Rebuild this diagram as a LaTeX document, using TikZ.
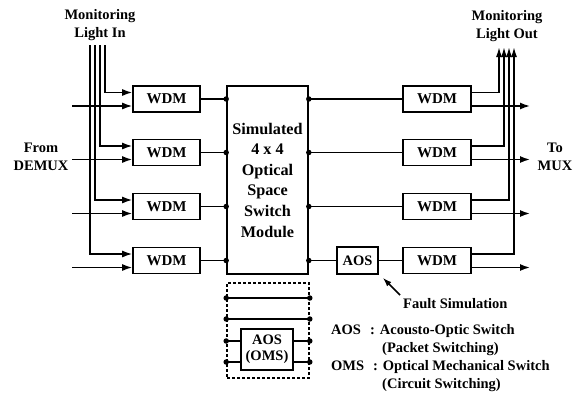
\documentclass[tikz,border=0pt]{standalone}
\usepackage{fontspec}
\setmainfont{Liberation Serif}
\usetikzlibrary{arrows.meta}
\begin{document}
\begin{tikzpicture}[x=1pt,y=-1pt,
  every node/.style={font=\bfseries\fontsize{14.5}{16}\selectfont},
  box/.style={draw,line width=1.6pt,inner sep=0pt,align=center},
  wdm/.style={box,minimum width=67pt,minimum height=26pt,font=\bfseries\fontsize{15}{16}\selectfont},
  ln/.style={line width=1.5pt},
  arr/.style={ln,-{Latex[length=10pt,width=7pt]}},
  dot/.style={circle,fill,inner sep=0pt,minimum size=5.5pt},
  lbl/.style={inner sep=0pt,align=center},
  multi/.style={lbl,font=\bfseries\fontsize{14.5}{18}\selectfont}]
\useasboundingbox (0,0) rectangle (583,394);

% switch module
\node[box,minimum width=81pt,minimum height=188pt,
      font=\bfseries\fontsize{16.2}{20.6}\selectfont] (SW) at (267.5,180)
  {Simulated\\4 x 4\\Optical\\Space\\Switch\\Module};

% WDM boxes
\foreach \i/\y in {1/99,2/152.5,3/206.5,4/260.5} {
  \node[wdm] (L\i) at (166.5,\y) {WDM};
}
\foreach \i/\y in {1/99,2/152.5,3/206.5,4/260.5} {
  \node[wdm,minimum width=68pt] (R\i) at (437,\y) {WDM};
}
\node[box,minimum width=41pt,minimum height=27pt] (AOS) at (357.5,260.5) {AOS};

% left side connections
\foreach \i/\y/\mx in {1/99/105,2/152.5/100,3/206.5/95,4/260.5/90} {
  \coordinate (mi\i) at (\mx,45);
  \coordinate (in\i) at (72,{\y+7});
  \draw[arr] (mi\i) |- ([yshift=6.5pt]L\i.west);
  \draw[arr] (in\i) -- ([yshift=-7pt]L\i.west);
  \draw[ln] (L\i.east) -- (L\i.east -| SW.west) node[dot] {};
}

% right side connections
\foreach \i in {1,2,3} {
  \draw[ln] (SW.east |- R\i.west) node[dot] {} -- (R\i.west);
}
\draw[ln] (SW.east |- AOS.west) node[dot] {} -- (AOS.west);
\draw[ln] (AOS.east) -- (R4.west);

\foreach \i/\y/\mx in {1/99/499,2/152.5/504,3/206.5/509,4/260.5/514} {
  \coordinate (mo\i) at (\mx,47);
  \coordinate (out\i) at (530,{\y+7});
  \draw[arr,-{Latex[length=10pt,width=6pt]}] ([yshift=6.5pt]R\i.east) -| (mo\i);
  \draw[arr] ([yshift=-7pt]R\i.east) -- (out\i);
}

% protection / dashed box
\node[draw,dash pattern=on 3pt off 2pt,line width=1.6pt,inner sep=0pt,
      minimum width=82pt,minimum height=95pt] (DB) at (268,330.5) {};
\node[box,minimum width=52pt,minimum height=41pt] (OMS) at (267,349.5) {AOS\\(OMS)};
\draw[ln] (DB.west |- 0,298) node[dot] {} -- (DB.east |- 0,298) node[dot] {};
\draw[ln] (DB.west |- 0,319) node[dot] {} -- (DB.east |- 0,319) node[dot] {};
\draw[ln] (DB.west |- 0,341) node[dot] {} -- (OMS.west |- 0,341);
\draw[ln] (OMS.east |- 0,341) -- (DB.east |- 0,341) node[dot] {};
\draw[ln] (DB.west |- 0,362) node[dot] {} -- (OMS.west |- 0,362);
\draw[ln] (OMS.east |- 0,362) -- (DB.east |- 0,362) node[dot] {};

% labels
\node[multi,anchor=north] (tin) at (100,9) {Monitoring\\Light In};
\node[multi,anchor=north] (tout) at (507,10) {Monitoring\\Light Out};
\node[multi,anchor=north] (tfrom) at (41,143) {From\\DEMUX};
\node[multi,anchor=north] (tto) at (555,143) {To\\MUX};

\node[lbl,anchor=base west] (FS) at (403,308) {Fault Simulation};
\coordinate (ft) at (400,295);
\draw[ln,-{Latex[length=9pt,width=6pt]}] (ft) -- ([shift={(4pt,-3pt)}]AOS.south east);

\node[lbl,anchor=base west] (k1a) at (331,334) {AOS};
\node[lbl,anchor=base west] (k1b) at (370,334) {: Acousto-Optic Switch};
\node[lbl,anchor=base west] (k2) at (382,352) {(Packet Switching)};
\node[lbl,anchor=base west] (k3a) at (331,370) {OMS};
\node[lbl,anchor=base west] (k3b) at (373,370) {: Optical Mechanical Switch};
\node[lbl,anchor=base west] (k4) at (382,388) {(Circuit Switching)};
\end{tikzpicture}
\end{document}
